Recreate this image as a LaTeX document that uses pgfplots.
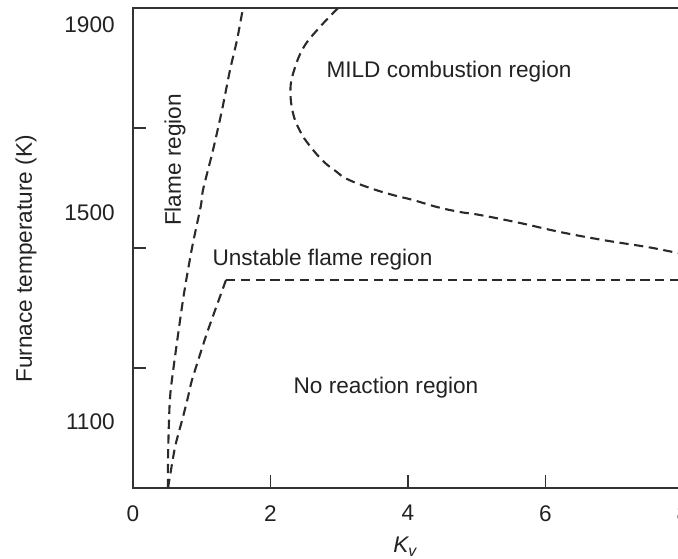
\documentclass[border=0pt]{standalone}
\usepackage{pgfplots}
\pgfplotsset{compat=1.18}
\usepackage{fontspec}
\setmainfont{Liberation Sans}
\definecolor{ink}{HTML}{222222}
\definecolor{curve}{HTML}{2A2A2A}
\begin{document}
\fontsize{11.3}{13.5}\selectfont
\begin{tikzpicture}
\begin{axis}[
  scale only axis,
  width=275pt, height=240pt,
  xmin=0, xmax=8, ymin=1100, ymax=1900,
  axis line style={line width=0.9pt, color=black!80},
  tick style={line width=0.8pt, color=black!80},
  tick align=inside,
  major tick length=6.5pt,
  xtick={0,2,4,6,8},
  xtick pos=bottom,
  ytick pos=left,
  ytick={1300,1500,1700},
  yticklabels={},
  extra y ticks={1871.7,1558.3,1210},
  extra y tick labels={1900,1500,1100},
  extra y tick style={major tick length=0pt},
  /pgf/number format/assume math mode=true,
  /pgf/number format/1000 sep={},
  ticklabel style={font=\fontsize{11.3}{13.5}\selectfont, text=ink},
  xticklabel style={yshift=-4.7pt},
  yticklabel style={xshift=-5.2pt},
  xlabel={\textit{K\textsubscript{v}}},
  xlabel style={at={(rel axis cs:0.495,0)}, anchor=north, yshift=-20.7pt, font=\fontsize{11.3}{13.5}\selectfont, text=ink},
  ylabel={Furnace temperature (K)},
  ylabel style={at={(rel axis cs:-0.1945,0.477)}, anchor=center, font=\fontsize{11.3}{13.5}\selectfont, text=ink},
  every axis plot/.append style={line width=1.05pt, color=curve, dash pattern=on 4.6pt off 2.8pt},
]
% Flame region boundary
\addplot[smooth, tension=0.4] coordinates {
(0.509,1100) (0.509,1146.7) (0.524,1213.3) (0.553,1268.3) (0.727,1413.3)
(0.858,1500) (0.989,1571.7) (1.018,1596.7) (1.164,1663.3) (1.295,1730)
(1.411,1796.7) (1.513,1846.7) (1.600,1900)
};
% Unstable flame / no reaction boundary
\addplot[smooth, tension=0.3] coordinates {
(0.509,1100) (0.611,1168.3) (0.727,1218.3) (0.800,1251.7) (0.858,1280)
(1.076,1358.3) (1.353,1446.7)
};
\addplot[] coordinates {(1.353,1446.7) (8,1446.7)};
% MILD combustion boundary
\addplot[smooth, tension=0.7] coordinates {
(2.982,1900) (2.700,1866) (2.480,1834) (2.340,1795) (2.290,1763)
(2.327,1725) (2.429,1695) (2.560,1672) (2.764,1645)
(2.950,1628) (3.113,1615) (3.447,1600) (3.782,1588.3) (4.073,1580)
(4.422,1568.3) (4.756,1560) (5.047,1555) (5.629,1541.7) (6.211,1526.7)
(6.836,1513.3) (7.476,1501.7) (7.855,1493.3) (8,1490)
};
\node[text=ink] at (axis cs:4.596,1793.3) {MILD combustion region};
\node[text=ink, rotate=90] at (axis cs:0.611,1646.7) {Flame region};
\node[text=ink] at (axis cs:2.756,1480.8) {Unstable flame region};
\node[text=ink] at (axis cs:3.68,1267) {No reaction region};
\coordinate (bbsw) at (rel axis cs:0,0);
\coordinate (bbnw) at (rel axis cs:0,1);
\end{axis}
\pgfresetboundingbox
\useasboundingbox ([xshift=-66.5pt,yshift=-35.5pt]bbsw) rectangle ([xshift=272.5pt,yshift=4pt]bbnw);
\end{tikzpicture}
\end{document}
